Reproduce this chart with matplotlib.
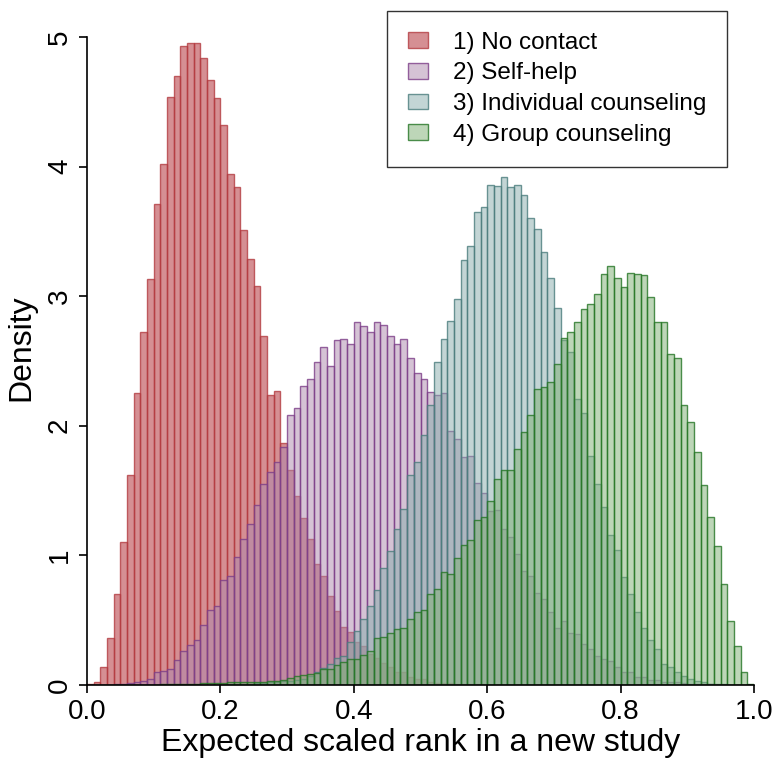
import numpy as np
import matplotlib.pyplot as plt

plt.rcParams['font.family'] = ['Liberation Sans', 'DejaVu Sans']

# ---------------------------
# Histogram densities, bin width 0.01 on [0, 1]
# ---------------------------
no_contact = [
    0.005, 0.025, 0.14, 0.36, 0.70, 1.10, 1.62, 2.25, 2.72, 3.13,
    3.71, 4.02, 4.54, 4.70, 4.93, 4.95, 4.95, 4.84, 4.67, 4.53,
    4.32, 3.94, 3.84, 3.51, 3.29, 3.08, 2.69, 2.24, 2.27, 1.87,
    1.66, 1.46, 1.29, 1.13, 0.93, 0.84, 0.69, 0.57, 0.45, 0.41,
    0.33, 0.30, 0.24, 0.21, 0.17, 0.14, 0.10, 0.10, 0.06, 0.045,
    0.045, 0.026, 0.018, 0.015, 0.013, 0.010, 0.008, 0.006, 0.005, 0.004,
    0.003, 0.002, 0.001, 0.001, 0, 0, 0, 0, 0, 0,
    0, 0, 0, 0, 0, 0, 0, 0, 0, 0,
    0, 0, 0, 0, 0, 0, 0, 0, 0, 0,
    0, 0, 0, 0, 0, 0, 0, 0, 0, 0,
]

self_help = [
    0, 0, 0, 0, 0.005, 0.010, 0.018, 0.020, 0.033, 0.046,
    0.10, 0.11, 0.12, 0.19, 0.26, 0.31, 0.35, 0.46, 0.58, 0.61,
    0.81, 0.84, 0.99, 1.13, 1.24, 1.39, 1.55, 1.64, 1.72, 1.84,
    2.08, 2.14, 2.31, 2.36, 2.49, 2.61, 2.46, 2.66, 2.67, 2.63,
    2.80, 2.77, 2.72, 2.80, 2.78, 2.69, 2.63, 2.67, 2.52, 2.41,
    2.36, 2.26, 2.24, 2.25, 1.96, 1.90, 1.76, 1.77, 1.56, 1.48,
    1.34, 1.35, 1.20, 1.14, 1.01, 0.88, 0.84, 0.71, 0.66, 0.56,
    0.44, 0.49, 0.40, 0.39, 0.32, 0.275, 0.22, 0.20, 0.185, 0.14,
    0.10, 0.10, 0.06, 0.06, 0.04, 0.035, 0.025, 0.025, 0.02, 0.013,
    0.010, 0.007, 0.005, 0.004, 0.003, 0.002, 0.001, 0.001, 0, 0,
]

individual = [
    0, 0, 0, 0, 0, 0, 0, 0, 0, 0,
    0, 0, 0, 0, 0.001, 0.001, 0.001, 0.002, 0.002, 0.002,
    0.003, 0.004, 0.005, 0.007, 0.010, 0.012, 0.015, 0.020, 0.025, 0.030,
    0.030, 0.04, 0.05, 0.07, 0.10, 0.13, 0.165, 0.21, 0.22, 0.33,
    0.42, 0.51, 0.61, 0.73, 0.90, 1.03, 1.20, 1.36, 1.62, 1.72,
    1.93, 2.16, 2.49, 2.67, 2.81, 2.98, 3.28, 3.39, 3.65, 3.69,
    3.86, 3.85, 3.92, 3.84, 3.86, 3.78, 3.60, 3.52, 3.34, 3.14,
    2.91, 2.66, 2.57, 2.21, 2.10, 1.77, 1.55, 1.37, 1.16, 1.04,
    0.83, 0.70, 0.56, 0.44, 0.35, 0.275, 0.16, 0.14, 0.10, 0.07,
    0.045, 0.03, 0.02, 0.01, 0.006, 0.004, 0.002, 0.001, 0, 0,
]

group = [
    0, 0, 0, 0, 0, 0, 0, 0.001, 0.001, 0.002,
    0.003, 0.004, 0.005, 0.006, 0.007, 0.008, 0.010, 0.012, 0.014, 0.016,
    0.018, 0.020, 0.022, 0.024, 0.025, 0.025, 0.025, 0.030, 0.030, 0.036,
    0.057, 0.07, 0.075, 0.087, 0.09, 0.12, 0.126, 0.154, 0.18, 0.20,
    0.20, 0.23, 0.26, 0.365, 0.37, 0.40, 0.435, 0.44, 0.51, 0.56,
    0.58, 0.70, 0.74, 0.87, 0.86, 0.98, 1.08, 1.12, 1.27, 1.30,
    1.42, 1.59, 1.66, 1.66, 1.82, 1.95, 2.08, 2.28, 2.30, 2.34,
    2.48, 2.68, 2.72, 2.80, 2.90, 2.94, 3.02, 3.17, 3.23, 3.14,
    3.07, 3.18, 3.17, 3.16, 2.99, 2.80, 2.80, 2.55, 2.52, 2.16,
    2.03, 1.80, 1.54, 1.30, 1.07, 0.78, 0.49, 0.30, 0.10, 0.01,
]

labels = ["1) No contact", "2) Self-help", "3) Individual counseling", "4) Group counseling"]
series = [no_contact, self_help, individual, group]

faces = [(173, 33, 41), (173, 137, 173), (137, 173, 173), (125, 175, 115)]
edges = [(180, 60, 65), (124, 61, 136), (74, 124, 124), (36, 117, 36)]

bin_edges = np.linspace(0, 1, 101)

# ---------------------------
# Plot
# ---------------------------
fig = plt.figure(figsize=(7.81, 7.6), dpi=100)
ax = fig.add_axes([87 / 781, 75 / 760, 667 / 781, 674 / 760])

for vals, lab, fc, ec in zip(series, labels, faces, edges):
    ax.bar(bin_edges[:-1], vals, width=0.01, align="edge",
           facecolor=tuple(c / 255 for c in fc) + (0.5,),
           edgecolor=tuple(c / 255 for c in ec) + (0.8,),
           linewidth=1.0, label=lab)

ax.set_xlim(0, 1)
ax.set_ylim(0, 5.2)
ax.set_xticks([0, 0.2, 0.4, 0.6, 0.8, 1.0])
ax.set_xticklabels(["0.0", "0.2", "0.4", "0.6", "0.8", "1.0"])
ax.set_yticks([0, 1, 2, 3, 4, 5])

for s in ["top", "right"]:
    ax.spines[s].set_visible(False)
ax.spines["left"].set_bounds(0, 5)
ax.spines["bottom"].set_bounds(0, 1)
for s in ["left", "bottom"]:
    ax.spines[s].set_linewidth(1.2)

ax.tick_params(axis="both", length=6, width=1.2, labelsize=20, pad=4)
ax.tick_params(axis="y", labelrotation=90)
for t in ax.get_yticklabels():
    t.set_verticalalignment("center")

ax.set_xlabel("Expected scaled rank in a new study", fontsize=23, labelpad=2)
ax.set_ylabel("Density", fontsize=23, labelpad=8)

leg = ax.legend(loc="upper left", bbox_to_anchor=(387 / 781, 1 - 11 / 760),
                bbox_transform=fig.transFigure, borderaxespad=0,
                fontsize=17.5, frameon=True, fancybox=False,
                handlelength=0.85, handleheight=0.62, handletextpad=1.0,
                labelspacing=0.36, borderpad=0.85)
leg.get_frame().set_edgecolor("black")
leg.get_frame().set_linewidth(1.0)

plt.savefig("out.png", dpi=100)
